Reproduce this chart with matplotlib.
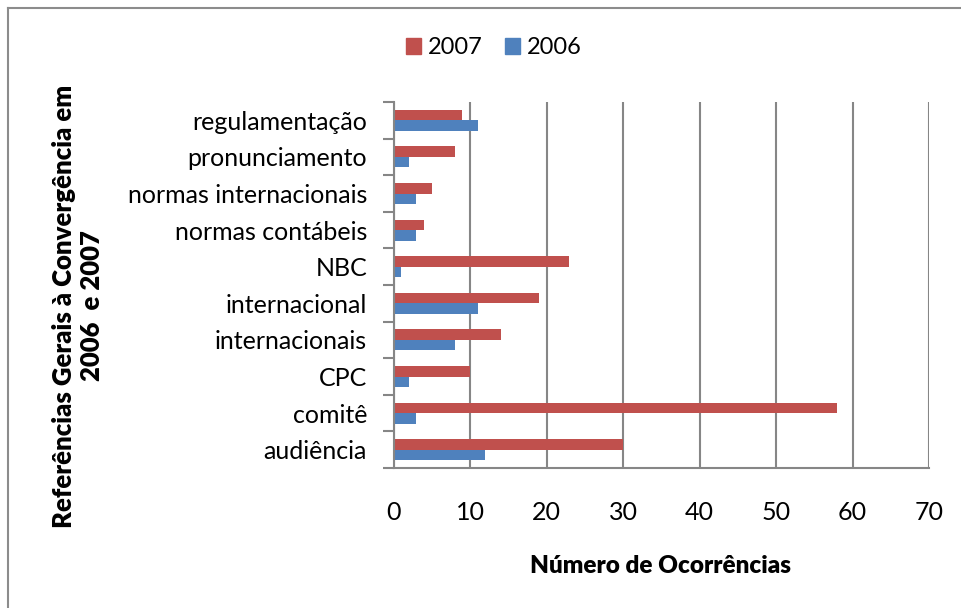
import matplotlib
matplotlib.use("Agg")
import matplotlib.pyplot as plt
from matplotlib.lines import Line2D
import numpy as np

categories = ["audiência", "comitê", "CPC", "internacionais", "internacional",
              "NBC", "normas contábeis", "normas internacionais",
              "pronunciamento", "regulamentação"]
values_2007 = [30, 58, 10, 14, 19, 23, 4, 5, 8, 9]
values_2006 = [12, 3, 2, 8, 11, 1, 3, 3, 2, 11]
xticks = [0, 10, 20, 30, 40, 50, 60, 70]

RED = "#C0504D"
BLUE = "#4F81BD"
GRID = "#868686"

plt.rcParams['font.family'] = ['Lato', 'DejaVu Sans']

fig = plt.figure(figsize=(9.61, 6.08), dpi=100)
ax = fig.add_axes([393.5/961, 1-468/608, (929-393.5)/961, (468-102)/608])

y = np.arange(len(categories))
h = 1/3.5
ax.barh(y + h/2, values_2007, height=h, color=RED, label="2007", zorder=3)
ax.barh(y - h/2, values_2006, height=h, color=BLUE, label="2006", zorder=3)

ax.set_xlim(0, 70)
ax.set_ylim(-0.5, len(categories) - 0.5)
ax.set_xticks(xticks)
ax.set_xticklabels([str(t) for t in xticks], fontsize=18)
ax.set_yticks(y)
ax.set_yticklabels(categories, fontsize=18)
ax.tick_params(axis='y', length=0, pad=19)
ax.tick_params(axis='x', length=0, pad=24)
# category boundary ticks
ax.set_yticks(np.arange(-0.5, len(categories), 1), minor=True)
ax.tick_params(axis='y', which='minor', length=8, width=1.5, color=GRID)
ax.set_xticks(xticks, minor=True)
ax.tick_params(axis='x', which='minor', length=8, width=1.5, color=GRID)

ax.grid(axis='x', color=GRID, linewidth=1.5, zorder=0)
for s in ['top', 'right']:
    ax.spines[s].set_visible(False)
ax.spines['left'].set_color(GRID)
ax.spines['left'].set_linewidth(1.5)
ax.spines['left'].set_zorder(4)
ax.spines['bottom'].set_color(GRID)
ax.spines['bottom'].set_linewidth(1.5)

fig.text(660/961, 1-566/608, "Número de Ocorrências", fontsize=17.5, fontweight='heavy',
         ha='center', va='center')
fig.text(78/961, 1-306/608, "Referências Gerais à Convergência em\n2006  e 2007", fontsize=18.5,
         fontweight='heavy', ha='center', va='center', rotation=90, linespacing=1.15)

handles = [plt.Rectangle((0, 0), 1, 1, color=RED), plt.Rectangle((0, 0), 1, 1, color=BLUE)]
fig.legend(handles, ["2007", "2006"], loc='center', bbox_to_anchor=(494/961, 1-48/608),
           ncol=2, frameon=False, fontsize=17, handlelength=0.64, handleheight=0.64,
           handletextpad=0.3, columnspacing=0.95)

# outer chart border (top and left visible)
fig.add_artist(Line2D([8/961, 1], [1-8/608, 1-8/608], transform=fig.transFigure, color="#8C8C8C", lw=1.5))
fig.add_artist(Line2D([8/961, 8/961], [0, 1-8/608], transform=fig.transFigure, color="#8C8C8C", lw=1.5))

fig.savefig("out.png", dpi=100)
